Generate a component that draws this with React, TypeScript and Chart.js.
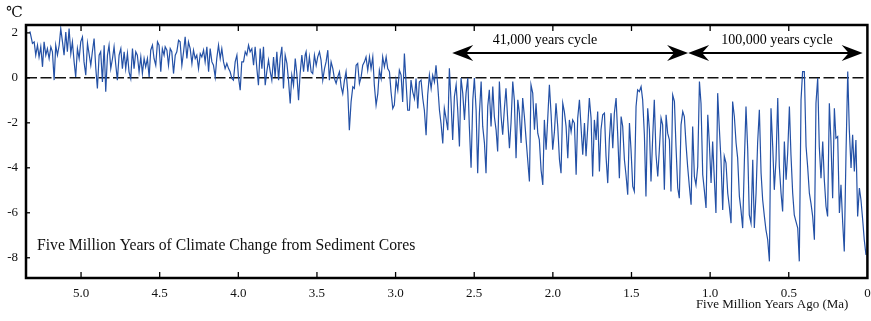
import React, { useEffect, useRef } from "react";
import { Chart, registerables } from "chart.js";

Chart.register(...registerables);

// Age (Ma) and temperature anomaly (°C), segment by segment
const agesA = [5.325,5.309,5.298,5.288,5.277,5.267,5.256,5.245,5.235,5.224,5.214,5.203,5.192,5.182,5.171,5.161,5.150,5.139,5.129,5.118,5.108,5.097,5.087,5.076,5.065,5.055,5.044,5.034,5.023,5.012,5.002,4.991,4.981,4.970,4.959,4.938,4.928,4.917,4.906,4.896,4.885,4.875,4.864,4.853,4.843,4.832,4.822,4.811,4.800,4.790,4.779,4.769,4.758,4.747,4.737,4.726,4.716,4.705,4.695,4.684,4.673,4.663,4.652,4.642,4.631,4.620,4.610,4.599,4.589,4.578,4.567,4.557,4.546,4.536,4.525,4.514,4.504,4.493,4.483,4.472];
const tempsA = [2.07,1.53,1.60,1.01,1.45,0.93,1.38,0.49,1.60,1.01,1.30,0.86,1.38,1.16,-0.10,1.45,1.01,1.45,2.19,1.60,1.01,2.04,1.16,2.19,1.08,1.60,0.71,0.04,1.30,0.86,1.60,1.82,0.71,0.12,1.53,0.56,1.16,1.75,0.41,-0.47,1.01,1.16,-0.18,1.45,-0.62,1.01,1.45,0.41,0.86,1.38,0.56,-0.10,1.01,1.30,0.41,1.16,0.41,1.08,0.27,-0.03,1.30,0.41,1.16,1.01,0.27,0.93,0.19,0.86,0.49,0.86,0.04,1.23,1.45,0.86,0.56,1.60,1.45,0.27,1.30,1.01];

const agesB = [4.465,4.454,4.444,4.433,4.423,4.412,4.401,4.391,4.380,4.370,4.359,4.348,4.338,4.327,4.317,4.306,4.295,4.285,4.274,4.264,4.253,4.242,4.232,4.221,4.211,4.200,4.189,4.179,4.168,4.158,4.147,4.137,4.126,4.115,4.105,4.094,4.084,4.073,4.062,4.052,4.041,4.031,4.020,4.009,3.999,3.988,3.978,3.967,3.956,3.946,3.935,3.925,3.914,3.903,3.893,3.882,3.872,3.861,3.850,3.840,3.829,3.819,3.808,3.797,3.787,3.776,3.766,3.755,3.744,3.734,3.723,3.713,3.702,3.691,3.681,3.670,3.660,3.649,3.638,3.628,3.617,3.607,3.596,3.585,3.575];
const tempsB = [1.38,1.23,0.56,1.30,1.16,0.19,1.01,1.16,1.67,1.60,0.56,1.16,1.82,0.86,1.60,1.30,0.64,1.23,0.86,1.01,0.41,1.08,0.93,1.23,0.71,1.38,0.27,1.30,0.71,0.56,0.04,0.86,1.45,0.86,1.30,0.71,0.41,0.64,0.41,0.27,-0.03,-0.10,0.71,1.01,0.04,-0.55,0.71,0.71,1.16,1.01,1.45,1.16,1.30,0.56,1.38,0.41,-0.33,1.30,0.41,1.38,-0.33,0.27,0.79,0.27,-0.10,0.93,0.04,1.16,-0.10,0.86,1.38,-0.47,1.01,0.64,-0.10,-1.14,0.12,-0.33,0.86,0.19,-0.99,0.19,1.01,0.27,1.01];

const agesC = [3.569,3.558,3.548,3.537,3.527,3.516,3.505,3.495,3.484,3.474,3.463,3.452,3.442,3.431,3.421,3.410,3.399,3.389,3.378,3.368,3.357,3.346,3.336,3.325,3.315,3.304,3.294,3.283,3.272,3.262,3.251,3.241,3.230,3.219,3.209,3.198,3.188,3.177,3.166,3.156,3.145,3.135,3.124,3.113,3.103,3.092,3.082,3.071,3.060,3.050,3.039,3.029,3.018,3.008,2.997,2.986,2.976,2.965,2.955,2.944,2.933,2.923,2.912,2.902,2.891,2.880,2.870,2.859,2.849,2.838,2.827,2.817,2.806,2.796,2.785,2.774,2.764,2.753,2.743,2.732,2.721,2.711,2.700,2.690,2.679,2.668];
const tempsC = [1.16,0.27,0.93,0.27,0.19,1.01,0.56,0.93,1.16,0.79,-0.10,0.41,0.71,1.23,-0.10,0.71,0.41,-0.03,-0.25,0.04,0.27,-0.40,-0.70,-0.10,0.27,-0.62,-2.33,-1.07,-0.40,-0.47,0.56,0.64,-0.25,0.04,0.56,0.71,0.93,0.34,0.93,0.41,0.93,-0.33,-1.21,-0.70,0.34,-0.03,0.93,0.49,0.93,0.41,0.27,-0.62,-1.36,-1.21,-0.10,-0.55,0.34,0.12,-1.07,1.08,-0.25,-1.44,-1.44,-0.10,-0.62,-0.92,-0.03,-1.36,-0.18,-0.10,-0.92,-1.44,-2.55,-0.77,0.12,-0.47,0.12,-0.18,0.56,-0.33,-1.44,-2.03,-2.92,-1.36,-1.81,-2.33];

const agesD = [2.658,2.647,2.637,2.626,2.615,2.605,2.594,2.584,2.573,2.562,2.552,2.541,2.531,2.520,2.509,2.499,2.488,2.478,2.467,2.456,2.446,2.435,2.425,2.414,2.404,2.393,2.382,2.372,2.361,2.351,2.340,2.329,2.319,2.308,2.298,2.287,2.276,2.266,2.255,2.245,2.234,2.223,2.213,2.202,2.192,2.181,2.170,2.160,2.149,2.139,2.128,2.117,2.107,2.096,2.086,2.075,2.064,2.054,2.043,2.033,2.022,2.011,2.001,1.990,1.980,1.969,1.958,1.948,1.937,1.927,1.916,1.905,1.895,1.884,1.874,1.863,1.852,1.842,1.831,1.821,1.810,1.799];
const tempsD = [0.43,-1.11,-2.76,-0.83,-0.31,-1.42,-3.05,-0.01,-0.68,-1.87,-0.68,-0.01,-2.16,-4.00,-0.98,-0.01,-1.42,-4.24,-1.57,-0.16,-2.16,-2.90,-4.24,-1.27,-0.53,-2.16,-0.39,-1.72,-2.31,-3.27,-0.16,-1.72,-2.53,-1.35,-0.46,-1.87,-3.13,-2.01,-0.16,-0.98,-3.57,-0.98,-1.57,-2.90,-0.90,-1.72,-2.76,-3.64,-4.61,-0.31,-0.68,-2.31,-1.13,-2.46,-2.76,-4.09,-4.76,-1.87,-3.20,-1.87,-0.31,-1.64,-3.20,-2.39,-1.13,-2.16,-3.64,-4.24,-1.13,-1.50,-2.16,-3.57,-1.87,-2.39,-1.87,-2.01,-4.31,-1.79,-0.98,-2.16,-3.42,-2.01];

const agesE = [1.789,1.778,1.768,1.757,1.747,1.736,1.725,1.715,1.704,1.694,1.683,1.672,1.662,1.651,1.641,1.630,1.619,1.609,1.598,1.588,1.577,1.566,1.556,1.545,1.535,1.524,1.513,1.503,1.492,1.482,1.471,1.461,1.450,1.439,1.429,1.418,1.408,1.397,1.386,1.376,1.365,1.355,1.344,1.333,1.323,1.312,1.302,1.291,1.280,1.270,1.259,1.249,1.238,1.227,1.217,1.206,1.196,1.185,1.174,1.164,1.153,1.143,1.132,1.121,1.111,1.100,1.090,1.079,1.068,1.058,1.047,1.037,1.026,1.015,1.005,0.994,0.984,0.973,0.963,0.952,0.941,0.931,0.920,0.910];
const tempsE = [-3.48,-2.16,-0.90,-1.79,-4.39,-1.87,-2.76,-1.50,-4.16,-2.31,-1.64,-1.57,-3.48,-4.68,-2.76,-1.57,-3.13,-1.57,-0.90,-2.46,-4.46,-1.72,-2.16,-3.64,-4.31,-5.20,-2.01,-3.20,-4.83,-5.05,-1.27,-0.53,-0.61,-0.39,-0.98,-2.53,-5.27,-1.35,-2.31,-4.61,-2.61,-0.98,-3.42,-4.39,-3.20,-1.79,-2.09,-4.98,-1.64,-2.46,-2.76,-5.05,-0.76,-1.05,-3.05,-4.90,-5.35,-2.09,-1.50,-1.72,-2.98,-3.94,-4.83,-5.64,-2.16,-4.39,-4.76,-3.94,-0.16,-1.13,-4.31,-4.98,-5.79,-1.64,-2.90,-4.68,-2.83,-4.53,-6.01,-0.68,-2.31,-3.64,-5.87,-3.48];

const agesF = [0.899,0.888,0.878,0.867,0.857,0.846,0.835,0.825,0.814,0.804,0.793,0.782,0.772,0.761,0.751,0.740,0.729,0.719,0.708,0.698,0.687,0.676,0.666,0.655,0.645,0.634,0.623,0.613,0.602,0.592,0.581,0.570,0.560,0.549,0.539,0.528,0.517,0.507,0.496,0.486,0.475,0.465,0.454,0.443,0.433,0.422,0.412,0.401,0.390,0.380,0.369,0.359,0.348,0.337,0.327,0.316,0.306,0.295,0.284,0.274,0.263,0.253,0.242,0.232,0.221,0.210,0.200,0.189,0.178,0.168,0.157,0.147,0.136,0.125,0.115,0.104,0.094,0.083,0.073,0.062,0.051,0.041,0.030,0.020,0.009];
const tempsF = [-3.79,-5.13,-5.72,-6.46,-1.05,-1.72,-2.90,-3.57,-5.27,-5.87,-6.68,-3.64,-1.27,-3.20,-6.09,-6.46,-3.64,-6.68,-5.13,-2.90,-1.42,-4.24,-5.42,-6.16,-6.76,-7.20,-8.16,-1.35,-3.05,-4.98,-3.64,-0.90,-3.94,-5.13,-5.94,-2.83,-4.53,-3.35,-1.27,-3.42,-5.13,-6.09,-6.39,-6.68,-8.16,-0.98,0.28,0.28,-3.05,-3.94,-5.13,-5.57,-6.16,-7.20,-1.13,-0.01,-3.05,-4.46,-2.83,-4.53,-5.72,-6.16,-1.13,-2.76,-5.35,-1.35,-2.68,-2.61,-6.01,-4.76,-6.46,-7.72,-3.35,0.28,-2.31,-4.01,-2.53,-4.16,-2.76,-6.16,-4.90,-5.42,-6.31,-7.20,-7.87];

const ages = [...agesA, ...agesB, ...agesC, ...agesD, ...agesE, ...agesF];
const temps = [...tempsA, ...tempsB, ...tempsC, ...tempsD, ...tempsE, ...tempsF];

const xTickStep = 0.5;
const yTickStep = 2;
const chartTitle = "Five Million Years of Climate Change from Sediment Cores";
const xAxisTitle = "Five Million Years Ago (Ma)";
const unitLabel = "℃";
const cycles = [
  { label: "41,000 years cycle", from: 2.64, to: 1.14, labelAt: 2.05 },
  { label: "100,000 years cycle", from: 1.14, to: 0.03, labelAt: 0.575 },
];
const arrowLevel = 1.1;
const cycleLabelLevel = 1.66;

const SERIF = "'Liberation Serif', 'Times New Roman', 'DejaVu Serif', serif";

function arrowHead(ctx: CanvasRenderingContext2D, tipX: number, y: number, dir: number) {
  const len = 21;
  const half = 8;
  const notch = 14;
  ctx.beginPath();
  ctx.moveTo(tipX, y);
  ctx.lineTo(tipX - dir * len, y - half);
  ctx.lineTo(tipX - dir * notch, y);
  ctx.lineTo(tipX - dir * len, y + half);
  ctx.closePath();
  ctx.fill();
}

const decorPlugin = {
  id: "decor",
  beforeDatasetsDraw(chart: any) {
    const { ctx, chartArea, scales } = chart;
    const y0 = scales.y.getPixelForValue(0);
    ctx.save();
    ctx.strokeStyle = "#111";
    ctx.lineWidth = 1.5;
    ctx.setLineDash([11, 3.5]);
    ctx.beginPath();
    ctx.moveTo(chartArea.left, y0);
    ctx.lineTo(chartArea.right, y0);
    ctx.stroke();
    ctx.restore();
  },
  afterDraw(chart: any) {
    const { ctx, chartArea, scales } = chart;
    const xs = scales.x;
    const ys = scales.y;
    ctx.save();
    ctx.strokeStyle = "#000";
    ctx.lineWidth = 2.5;
    ctx.strokeRect(chartArea.left, chartArea.top, chartArea.right - chartArea.left, chartArea.bottom - chartArea.top);
    ctx.lineWidth = 1.3;
    xs.ticks.forEach((t: any) => {
      const px = xs.getPixelForValue(t.value);
      if (px <= chartArea.left + 2 || px >= chartArea.right - 2) return;
      ctx.beginPath();
      ctx.moveTo(px, chartArea.bottom);
      ctx.lineTo(px, chartArea.bottom - 6);
      ctx.moveTo(px, chartArea.top);
      ctx.lineTo(px, chartArea.top + 6);
      ctx.stroke();
    });
    ys.ticks.forEach((t: any) => {
      const py = ys.getPixelForValue(t.value);
      ctx.beginPath();
      ctx.moveTo(chartArea.left, py);
      ctx.lineTo(chartArea.left + 4, py);
      ctx.stroke();
    });
    ctx.fillStyle = "#000";
    ctx.lineWidth = 2;
    const ay = ys.getPixelForValue(arrowLevel);
    cycles.forEach((c) => {
      const x1 = xs.getPixelForValue(c.from);
      const x2 = xs.getPixelForValue(c.to);
      ctx.beginPath();
      ctx.moveTo(x1 + 10, ay);
      ctx.lineTo(x2 - 10, ay);
      ctx.stroke();
      arrowHead(ctx, x1, ay, -1);
      arrowHead(ctx, x2, ay, 1);
      ctx.font = `14px ${SERIF}`;
      ctx.textAlign = "center";
      ctx.textBaseline = "middle";
      ctx.fillText(c.label, xs.getPixelForValue(c.labelAt), ys.getPixelForValue(cycleLabelLevel));
    });
    ctx.font = `15.7px ${SERIF}`;
    ctx.textAlign = "left";
    ctx.textBaseline = "middle";
    ctx.fillStyle = "#111";
    ctx.fillText(chartTitle, chartArea.left + 11, ys.getPixelForValue(-7.45));
    ctx.font = `13px ${SERIF}`;
    ctx.textAlign = "right";
    ctx.fillStyle = "#111";
    ctx.fillText(xAxisTitle, chartArea.right - 19, 305);
    ctx.font = `15px ${SERIF}`;
    ctx.textAlign = "left";
    ctx.fillText(unitLabel, 6, 13);
    ctx.restore();
  },
};

export default function App() {
  const ref = useRef<HTMLCanvasElement | null>(null);
  useEffect(() => {
    if (!ref.current) return;
    const points = ages.map((a, i) => ({ x: a, y: temps[i] }));
    const chart = new Chart(ref.current, {
      type: "line",
      data: {
        datasets: [
          {
            data: points,
            borderColor: "#2451a6",
            borderWidth: 1.2,
            pointRadius: 0,
            tension: 0,
            fill: false,
          },
        ],
      },
      options: {
        responsive: false,
        animation: false,
        layout: { padding: { top: 25, right: 3.6, left: 0, bottom: 0 } },
        plugins: { legend: { display: false }, tooltip: { enabled: false } },
        scales: {
          x: {
            type: "linear",
            reverse: true,
            min: 0,
            max: 5.35,
            afterFit: (s: any) => {
              s.height = 43;
              s.paddingLeft = 0;
              s.paddingRight = 0;
            },
            grid: { display: false, drawTicks: false },
            border: { display: false },
            ticks: {
              stepSize: xTickStep,
              includeBounds: false,
              autoSkip: false,
              maxRotation: 0,
              padding: 8,
              color: "#111",
              font: { family: SERIF, size: 13 },
              callback: (v: any) => (Number(v) === 0 ? "0" : Number(v).toFixed(1)),
            },
          },
          y: {
            type: "linear",
            min: -8.9,
            max: 2.35,
            afterFit: (s: any) => {
              s.width = 26;
              s.paddingTop = 0;
              s.paddingBottom = 0;
            },
            grid: { display: false, drawTicks: false },
            border: { display: false },
            ticks: {
              stepSize: yTickStep,
              includeBounds: false,
              padding: 8,
              color: "#111",
              font: { family: SERIF, size: 13 },
              callback: (v: any) => String(v),
            },
          },
        },
      },
      plugins: [decorPlugin],
    });
    return () => chart.destroy();
  }, []);
  return (
    <div style={{ position: "fixed", left: 0, top: 0, width: 871, height: 321, background: "#fff" }}>
      <canvas ref={ref} width={871} height={321} style={{ display: "block" }} />
    </div>
  );
}
